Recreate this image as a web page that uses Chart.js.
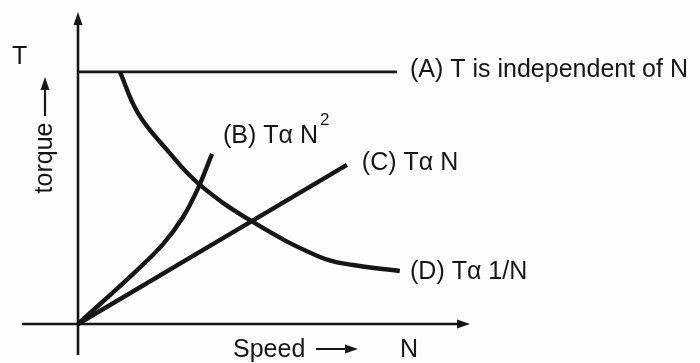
<!DOCTYPE html>
<html>
<head>
<meta charset="utf-8">
<script src="https://cdn.jsdelivr.net/npm/chart.js@4.4.1/dist/chart.umd.min.js"></script>
<style>
html, body { margin: 0; padding: 0; background: #fdfdfc; }
#wrap { width: 700px; height: 363px; position: relative; }
</style>
</head>
<body>
<div id="wrap"><canvas id="torqueChart"></canvas></div>
<script>
const LINE_COLOR = '#161616';
const FONT_FAMILY = '"Liberation Sans", Arial, sans-serif';

// speed (N) / torque (T) samples, arbitrary units 0..10
const constX = [0, 8.14];
const constY = [8.08, 8.08];
const squareX = [0, 1.51, 2.17, 2.68, 3.04, 3.42];
const squareY = [0, 1.73, 2.56, 3.43, 4.29, 5.45];
const linearX = [0, 6.86];
const linearY = [0, 5.1];
const inverseX = [1.07, 1.53, 2.27, 3.11, 4.46, 6.17, 7.02, 8.21];
const inverseY = [8.08, 6.76, 5.58, 4.46, 3.27, 2.15, 1.89, 1.7];

// curve captions and where they sit (data units)
const curveLabels = ['(A) T is independent of N', '(B) T\u03b1 N', '(C) T\u03b1 N', '(D) T\u03b1 1/N'];
const curveSup = ['', '2', '', ''];
const labelX = [8.47, 3.7, 7.24, 8.47];
const labelY = [8.14, 6.03, 5.16, 1.67];

const toPoints = (xs, ys) => xs.map((x, i) => ({ x, y: ys[i] }));

const curve = (xs, ys, width) => ({
  data: toPoints(xs, ys),
  borderColor: LINE_COLOR,
  borderWidth: width,
  pointRadius: 0,
  fill: false,
  tension: 0.4,
  borderCapStyle: 'butt',
  clip: false,
});

const arrowHead = (ctx, x, y, dir) => {
  // dir: 'up' or 'right'
  ctx.beginPath();
  if (dir === 'up') {
    ctx.moveTo(x, y);
    ctx.lineTo(x - 4.5, y + 13);
    ctx.lineTo(x + 4.5, y + 13);
  } else {
    ctx.moveTo(x, y);
    ctx.lineTo(x - 13, y - 4.5);
    ctx.lineTo(x - 13, y + 4.5);
  }
  ctx.closePath();
  ctx.fill();
};

const sketchPlugin = {
  id: 'sketch',
  beforeDatasetsDraw(chart) {
    const { ctx, chartArea: a } = chart;
    ctx.save();
    ctx.strokeStyle = LINE_COLOR;
    ctx.fillStyle = LINE_COLOR;
    ctx.lineWidth = 2.6;
    // vertical (torque) axis
    ctx.beginPath();
    ctx.moveTo(a.left, a.bottom + 31);
    ctx.lineTo(a.left, a.top + 8);
    ctx.stroke();
    arrowHead(ctx, a.left, a.top, 'up');
    // horizontal (speed) axis
    ctx.beginPath();
    ctx.moveTo(a.left - 56, a.bottom);
    ctx.lineTo(a.right - 8, a.bottom);
    ctx.stroke();
    arrowHead(ctx, a.right, a.bottom, 'right');
    ctx.restore();
  },
  afterDatasetsDraw(chart) {
    const { ctx, chartArea: a } = chart;
    const xs = chart.scales.x;
    const ys = chart.scales.y;
    ctx.save();
    ctx.fillStyle = LINE_COLOR;
    ctx.strokeStyle = LINE_COLOR;
    ctx.textBaseline = 'middle';
    ctx.textAlign = 'left';

    curveLabels.forEach((text, i) => {
      const px = xs.getPixelForValue(labelX[i]);
      const py = ys.getPixelForValue(labelY[i]);
      ctx.font = '25px ' + FONT_FAMILY;
      ctx.fillText(text, px, py);
      if (curveSup[i]) {
        const w = ctx.measureText(text).width;
        ctx.font = '17px ' + FONT_FAMILY;
        ctx.fillText(curveSup[i], px + w + 2, py - 16);
      }
    });

    // axis titles
    ctx.font = '25px ' + FONT_FAMILY;
    ctx.fillText('T', a.left - 66, a.top + 45);

    ctx.save();
    ctx.translate(a.left - 33, a.top + 146);
    ctx.rotate(-Math.PI / 2);
    ctx.textAlign = 'center';
    ctx.fillText('torque', 0, 0);
    ctx.restore();
    ctx.lineWidth = 2.2;
    ctx.beginPath();
    ctx.moveTo(a.left - 33, a.top + 104);
    ctx.lineTo(a.left - 33, a.top + 74);
    ctx.stroke();
    arrowHead(ctx, a.left - 33, a.top + 65, 'up');

    ctx.fillText('Speed', a.left + 155, a.bottom + 26);
    ctx.beginPath();
    ctx.moveTo(a.left + 238, a.bottom + 25);
    ctx.lineTo(a.left + 271, a.bottom + 25);
    ctx.stroke();
    arrowHead(ctx, a.left + 280, a.bottom + 25, 'right');
    ctx.fillText('N', a.left + 322, a.bottom + 26);
    ctx.restore();
  },
};

document.addEventListener('DOMContentLoaded', () => {
  const ctx = document.getElementById('torqueChart').getContext('2d');
  new Chart(ctx, {
    type: 'scatter',
    data: {
      datasets: [
        curve(constX, constY, 2.6),
        curve(squareX, squareY, 4.4),
        curve(linearX, linearY, 4.4),
        curve(inverseX, inverseY, 4.4),
      ],
    },
    options: {
      responsive: true,
      maintainAspectRatio: false,
      animation: false,
      showLine: true,
      layout: { padding: { left: 78, right: 230, top: 12, bottom: 39 } },
      scales: {
        x: { type: 'linear', min: 0, max: 10, display: false },
        y: { type: 'linear', min: 0, max: 10, display: false },
      },
      plugins: {
        legend: { display: false },
        tooltip: { enabled: false },
      },
    },
    plugins: [sketchPlugin],
  });
});
</script>
</body>
</html>
